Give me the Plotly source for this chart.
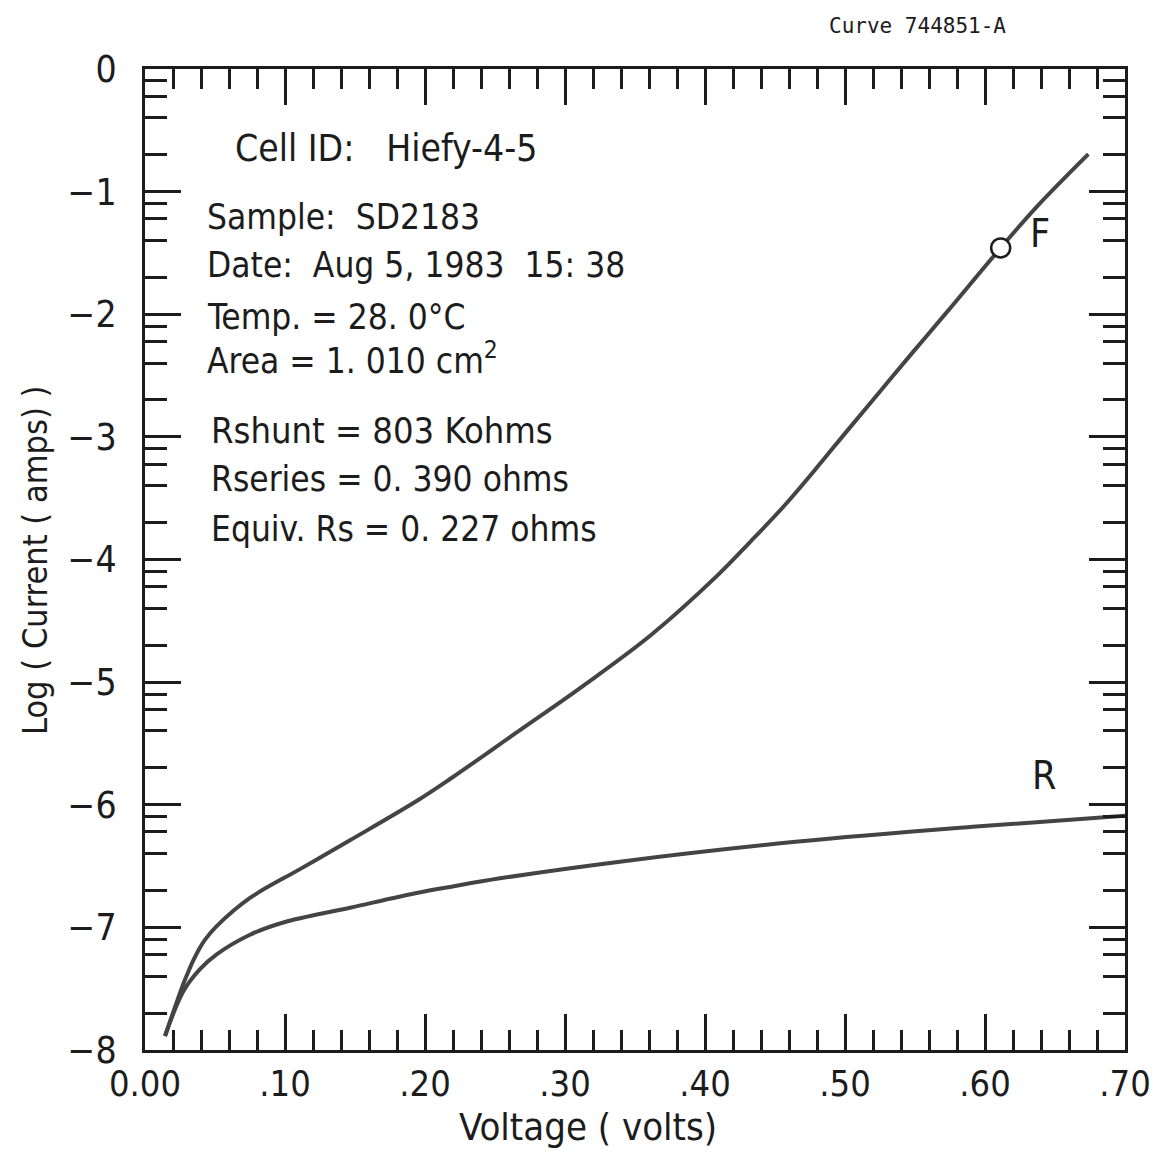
import math
import plotly.graph_objects as go

# Forward (F) and reverse (R) dark I-V curves: voltage (V) vs log10(current in A)
F_VOLTS = [0.0143, 0.0274, 0.031, 0.0345, 0.039, 0.0429, 0.0512, 0.075, 0.1107,
           0.1464, 0.194, 0.2179, 0.2655, 0.313, 0.361, 0.408, 0.432, 0.456,
           0.4785, 0.5012, 0.525, 0.5488, 0.5726, 0.6112, 0.6369, 0.6738]
F_LOGI = [-7.886, -7.46, -7.36, -7.27, -7.17, -7.10, -6.99, -6.76, -6.525,
          -6.29, -5.97, -5.79, -5.41, -5.03, -4.62, -4.14, -3.86, -3.57,
          -3.27, -2.955, -2.630, -2.305, -1.985, -1.459, -1.124, -0.694]

R_VOLTS = [0.0143, 0.0274, 0.0393, 0.0512, 0.075, 0.0988, 0.1464, 0.194, 0.2179,
           0.2536, 0.342, 0.4666, 0.591, 0.70]
R_LOGI = [-7.886, -7.52, -7.34, -7.22, -7.06, -6.96, -6.84, -6.72, -6.67,
          -6.60, -6.46, -6.30, -6.18, -6.09]

# Marked operating point on the forward curve
F_MARK_V = [0.6112]
F_MARK_LOGI = [-1.459]

X_TICKS = [0.0, 0.1, 0.2, 0.3, 0.4, 0.5, 0.6, 0.7]
X_TICK_TEXT = ["0.00", ".10", ".20", ".30", ".40", ".50", ".60", ".70"]
Y_TICKS = [-8, -7, -6, -5, -4, -3, -2, -1, 0]
Y_TICK_TEXT = ["\u22128", "\u22127", "\u22126", "\u22125", "\u22124",
               "\u22123", "\u22122", "\u22121", "0"]

INFO_LINES = [
    ("Cell ID:\u00a0\u00a0\u00a0Hiefy-4-5", 0.063, -0.65, 37),
    ("Sample:\u00a0\u00a0SD2183", 0.043, -1.21, 35),
    ("Date:\u00a0\u00a0Aug 5, 1983\u00a0\u00a015: 38", 0.043, -1.60, 35),
    ("Temp.\u00a0=\u00a028. 0\u00b0C", 0.043, -2.02, 35),
    ("Area\u00a0=\u00a01. 010\u00a0cm<sup>2</sup>", 0.043, -2.36, 35),
    ("Rshunt\u00a0=\u00a0803 Kohms", 0.046, -2.95, 36),
    ("Rseries\u00a0=\u00a00. 390 ohms", 0.046, -3.34, 35),
    ("Equiv.\u00a0Rs\u00a0=\u00a00. 227 ohms", 0.046, -3.75, 35),
]

FONT = "DejaVu Sans Condensed, Liberation Sans Narrow, Arial Narrow, sans-serif"
INK = "#1c1c1c"
CURVE = "#444444"

# log-decade minor ticks at 2, 4, 6, 8 x 10^n
y_minor = [n + math.log10(k) for n in range(-8, 0) for k in (2, 4, 6, 8)]

fig = go.Figure()
for xs, ys in ((F_VOLTS, F_LOGI), (R_VOLTS, R_LOGI)):
    fig.add_trace(go.Scatter(x=xs, y=ys, mode="lines",
                             line=dict(color=CURVE, width=4, shape="spline", smoothing=1.0),
                             showlegend=False, hoverinfo="skip"))
fig.add_trace(go.Scatter(x=F_MARK_V, y=F_MARK_LOGI, mode="markers",
                         marker=dict(symbol="circle", size=19, color="white",
                                     line=dict(color=INK, width=2.5)),
                         showlegend=False, hoverinfo="skip"))

annotations = []
for text, xv, yv, fs in INFO_LINES:
    annotations.append(dict(x=xv, y=yv, xref="x", yref="y", text=text,
                            showarrow=False, xanchor="left", yanchor="middle",
                            font=dict(family=FONT, size=fs, color=INK)))
annotations.append(dict(x=0.639, y=-1.34, xref="x", yref="y", text="F",
                        showarrow=False, xanchor="center", yanchor="middle",
                        font=dict(family=FONT, size=39, color=INK)))
annotations.append(dict(x=0.642, y=-5.76, xref="x", yref="y", text="R",
                        showarrow=False, xanchor="center", yanchor="middle",
                        font=dict(family=FONT, size=39, color=INK)))
annotations.append(dict(x=0.8806, y=1.0438, xref="paper", yref="paper",
                        text="Curve 744851-A", showarrow=False,
                        xanchor="right", yanchor="middle",
                        font=dict(family="DejaVu Sans Mono, Liberation Mono, monospace",
                                  size=21, color=INK)))
# axis titles
annotations.append(dict(x=0.452, y=-0.0785, xref="paper", yref="paper",
                        text="Voltage ( volts)", showarrow=False,
                        xanchor="center", yanchor="middle",
                        font=dict(family=FONT, size=38, color=INK)))
annotations.append(dict(x=-0.1122, y=0.4995, xref="paper", yref="paper",
                        text="Log ( Current ( amps) )", showarrow=False, textangle=-90,
                        xanchor="center", yanchor="middle",
                        font=dict(family=FONT, size=34, color=INK)))

axis_common = dict(showline=True, linewidth=3, linecolor=INK, mirror="ticks",
                   ticks="inside", ticklen=36, tickwidth=2.5, tickcolor=INK,
                   showgrid=False, zeroline=False, automargin=False)

fig.update_layout(
    width=1156, height=1154,
    margin=dict(l=145, r=31, t=69, b=104),
    paper_bgcolor="white", plot_bgcolor="white",
    xaxis=dict(range=[0, 0.70], tickmode="array", tickvals=X_TICKS, ticktext=X_TICK_TEXT,
               minor=dict(dtick=0.02, tick0=0, ticks="inside", ticklen=20, tickwidth=2.5,
                          tickcolor=INK, showgrid=False),
               ticklabelstandoff=0, tickfont=dict(family=FONT, size=36, color=INK),
               **axis_common),
    yaxis=dict(range=[-8, 0], tickmode="array", tickvals=Y_TICKS, ticktext=Y_TICK_TEXT,
               minor=dict(tickmode="array", tickvals=y_minor, ticks="inside", ticklen=22,
                          tickwidth=2.5, tickcolor=INK, showgrid=False),
               ticklabelstandoff=18, tickfont=dict(family=FONT, size=37, color=INK),
               **axis_common),
    annotations=annotations,
)

fig.write_html("out.html")
